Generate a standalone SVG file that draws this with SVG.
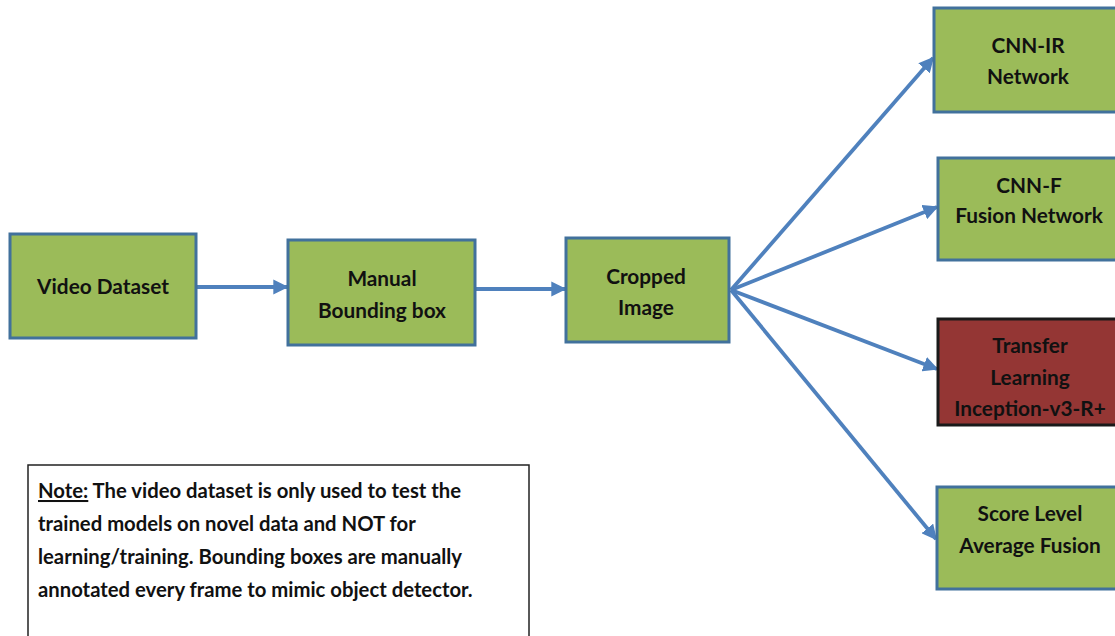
<svg xmlns="http://www.w3.org/2000/svg" width="1115" height="636" viewBox="0 0 1115 636">
  <style>
    .box { fill: #9BBB59; stroke: #41719C; stroke-width: 3; }
    .red { fill: #943634; stroke: #1a1a1a; stroke-width: 3; }
    .lbl { font-family: Lato, "Open Sans", "Liberation Sans", sans-serif; font-weight: bold; font-size: 20.8px; fill: #111; text-anchor: middle; }
    .note { font-family: Lato, "Open Sans", "Liberation Sans", sans-serif; font-weight: bold; font-size: 20.3px; fill: #111; }
    .conn { stroke: #4F81BD; stroke-width: 3.8; fill: none; marker-end: url(#arr); }
  </style>
  <defs>
    <marker id="arr" viewBox="0 0 10 10" refX="9" refY="5" markerWidth="4" markerHeight="4" orient="auto" markerUnits="strokeWidth">
      <path d="M0,0 L10,5 L0,10 Z" fill="#4F81BD"/>
    </marker>
  </defs>
  <rect width="1115" height="636" fill="#ffffff"/>

  <g id="connectors">
    <line class="conn" x1="197" y1="287" x2="287" y2="287"/>
    <line class="conn" x1="476" y1="289" x2="565" y2="289"/>
    <line class="conn" x1="731" y1="290" x2="933" y2="58"/>
    <line class="conn" x1="731" y1="290" x2="937" y2="207"/>
    <line class="conn" x1="731" y1="290" x2="937" y2="369"/>
    <line class="conn" x1="731" y1="290" x2="936" y2="539"/>
  </g>

  <g id="video-dataset">
    <rect class="box" x="10" y="234" width="186" height="104"/>
    <text class="lbl" x="103" y="294">Video Dataset</text>
  </g>

  <g id="manual-bounding-box">
    <rect class="box" x="288" y="240" width="187" height="105"/>
    <text class="lbl" x="382" y="286">Manual</text>
    <text class="lbl" x="382" y="318">Bounding box</text>
  </g>

  <g id="cropped-image">
    <rect class="box" x="566" y="238" width="163" height="104"/>
    <text class="lbl" x="646" y="284">Cropped</text>
    <text class="lbl" x="646" y="315">Image</text>
  </g>

  <g id="cnn-ir">
    <rect class="box" x="934" y="8" width="186" height="104"/>
    <text class="lbl" x="1028" y="53">CNN-IR</text>
    <text class="lbl" x="1028" y="84">Network</text>
  </g>

  <g id="cnn-f">
    <rect class="box" x="938" y="158" width="182" height="102"/>
    <text class="lbl" x="1029" y="193">CNN-F</text>
    <text class="lbl" x="1029" y="223">Fusion Network</text>
  </g>

  <g id="transfer-learning">
    <rect class="red" x="938" y="319" width="182" height="106"/>
    <text class="lbl" x="1030" y="353">Transfer</text>
    <text class="lbl" x="1030" y="385">Learning</text>
    <text class="lbl" x="1030" y="416">Inception-v3-R+</text>
  </g>

  <g id="score-fusion">
    <rect class="box" x="937" y="487" width="183" height="102"/>
    <text class="lbl" x="1030" y="521">Score Level</text>
    <text class="lbl" x="1030" y="553">Average Fusion</text>
  </g>

  <g id="note">
    <rect x="28" y="465" width="501" height="180" fill="#ffffff" stroke="#222" stroke-width="1.5"/>
    <text class="note" x="38" y="498"><tspan text-decoration="underline">Note:</tspan> The video dataset is only used to test the</text>
    <text class="note" x="38" y="531">trained models on novel data and NOT for</text>
    <text class="note" x="38" y="564">learning/training. Bounding boxes are manually</text>
    <text class="note" x="38" y="597">annotated every frame to mimic object detector.</text>
  </g>
</svg>
